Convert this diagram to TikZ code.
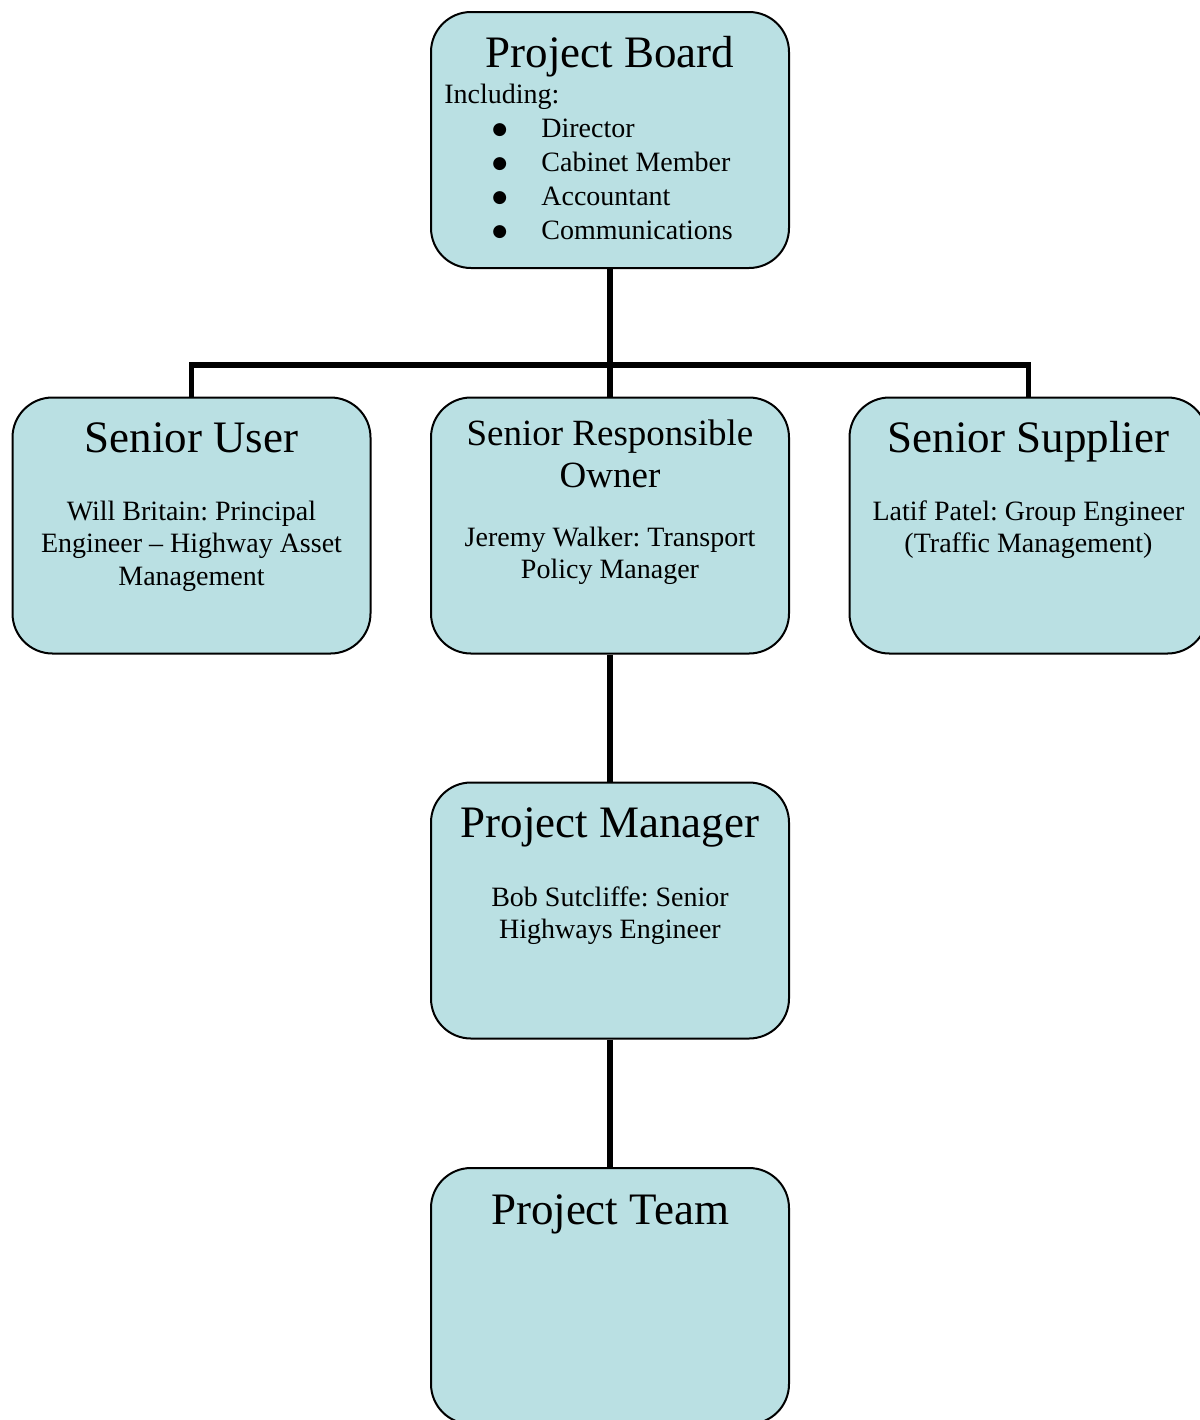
\documentclass[tikz,border=0pt]{standalone}
\usepackage{fontspec}
\setmainfont{Liberation Serif}
\newfontfamily\symbolfont{DejaVu Sans}
\usetikzlibrary{backgrounds}
\definecolor{boxfill}{RGB}{186,224,227}
\frenchspacing
% list bullet followed by a fixed indent
\newcommand{\listmark}{\makebox[24.5pt][l]{{\symbolfont\fontsize{8.5}{10}\selectfont\raisebox{1.5pt}{●}}}}
\begin{document}
\begin{tikzpicture}[x=0.5pt,y=-0.5pt,
  rolebox/.style={draw=black,line width=1pt,fill=boxfill,rounded corners=20pt,
    minimum width=179pt,minimum height=128pt,inner sep=0pt},
  conn/.style={line width=2.6pt,line join=miter},
  title/.style={anchor=base,inner sep=0pt,font=\fontsize{22.5}{26}\selectfont},
  subtitle/.style={anchor=base,inner sep=0pt,font=\fontsize{18.5}{21}\selectfont},
  body/.style={anchor=base,inner sep=0pt,font=\fontsize{14}{16}\selectfont},
  item/.style={anchor=base west,inner sep=0pt,font=\fontsize{14}{16}\selectfont}]
\useasboundingbox (0,0) rectangle (1200,1420);

% boxes
\node[rolebox] (pb)  at (610,140)   {};
\node[rolebox] (su)  at (191.5,525.5) {};
\node[rolebox] (sro) at (610,525.5) {};
\node[rolebox] (ss)  at (1028.5,525.5) {};
\node[rolebox] (pm)  at (610,910.5) {};
\node[rolebox] (pt)  at (610,1296)  {};

% Project Board
\node[title] (pbt) at (610,67) {Project Board};
\node[item] (pbinc) at (444,103) {Including:};
\node[item] (pbi1) at (492,137) {\listmark Director};
\node[item] (pbi2) at (492,171) {\listmark Cabinet Member};
\node[item] (pbi3) at (492,205) {\listmark Accountant};
\node[item] (pbi4) at (492,239) {\listmark Communications};

% Senior User
\node[title] (sut) at (191.5,452) {Senior User};
\node[body] (su1) at (191.5,520) {Will Britain: Principal};
\node[body] (su2) at (191.5,552.5) {Engineer -- Highway Asset};
\node[body] (su3) at (191.5,585) {Management};

% Senior Responsible Owner
\node[subtitle] (srot1) at (610,445) {Senior Responsible};
\node[subtitle] (srot2) at (610,487) {Owner};
\node[body] (sro1) at (610,546) {Jeremy Walker: Transport};
\node[body] (sro2) at (610,578) {Policy Manager};

% Senior Supplier
\node[title] (sst) at (1028.5,452) {Senior Supplier};
\node[body] (ss1) at (1028.5,520) {Latif Patel: Group Engineer};
\node[body] (ss2) at (1028.5,552) {(Traffic Management)};

% Project Manager
\node[title] (pmt) at (610,837) {Project Manager};
\node[body] (pm1) at (610,906) {Bob Sutcliffe: Senior};
\node[body] (pm2) at (610,938) {Highways Engineer};

% Project Team
\node[title] (ptt) at (610,1224) {Project Team};

% reporting lines
\coordinate (jn) at (610,365);
\begin{scope}[on background layer]
  \draw[conn] (pb.south) -- (sro.north);
  \draw[conn] (su.north) |- (jn) -| (ss.north);
  \draw[conn] (sro.south) -- (pm.north);
  \draw[conn] (pm.south) -- (pt.north);
\end{scope}
\end{tikzpicture}
\end{document}
